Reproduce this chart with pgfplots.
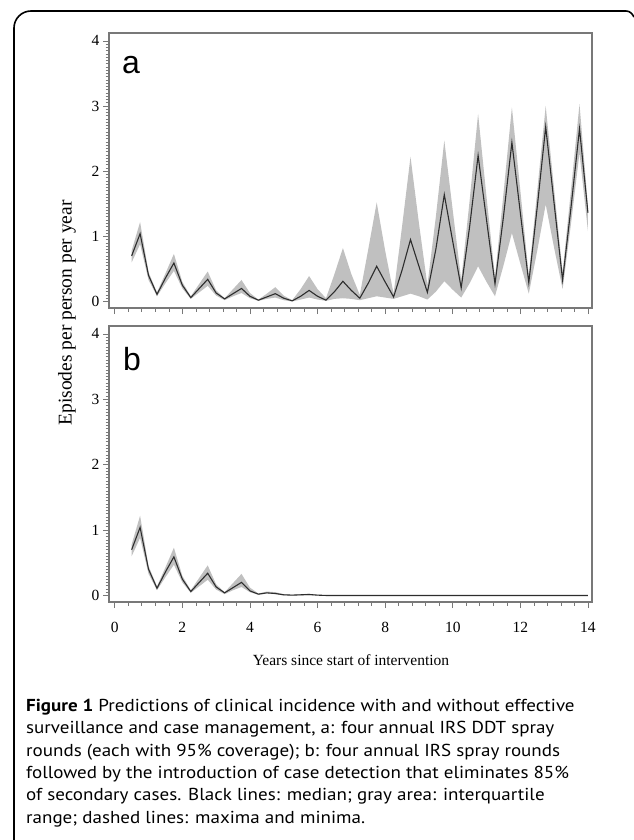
\documentclass[border=0pt]{standalone}
\usepackage{fontspec}
\setmainfont{Liberation Serif}
\newfontfamily\capfont{PT Sans}
\newfontfamily\panelfont{Liberation Sans}
\usepackage{pgfplots}
\pgfplotsset{compat=1.18}
\usepgfplotslibrary{fillbetween}

\definecolor{band}{RGB}{192,192,192}
\definecolor{medline}{RGB}{45,45,45}
\definecolor{frame}{RGB}{120,120,120}

% x, median, lower quartile, upper quartile
\pgfplotstableread{
x     m     lo    hi
0.5   0.70  0.60  0.78
0.75  1.04  0.88  1.22
1.0   0.40  0.33  0.45
1.25  0.11  0.08  0.14
1.5   0.36  0.28  0.43
1.75  0.59  0.47  0.73
2.0   0.25  0.20  0.30
2.25  0.06  0.04  0.08
2.5   0.20  0.14  0.27
2.75  0.34  0.24  0.46
3.0   0.13  0.09  0.17
3.25  0.04  0.02  0.05
3.5   0.12  0.08  0.19
3.75  0.20  0.13  0.33
4.0   0.08  0.05  0.13
4.25  0.02  0.01  0.03
4.5   0.07  0.04  0.12
4.75  0.12  0.06  0.22
5.0   0.05  0.02  0.09
5.25  0.01  0.00  0.02
5.5   0.08  0.03  0.19
5.75  0.17  0.06  0.39
6.0   0.08  0.03  0.19
6.25  0.02  0.01  0.05
6.5   0.15  0.04  0.42
6.75  0.31  0.05  0.82
7.0   0.17  0.04  0.42
7.25  0.05  0.02  0.10
7.5   0.28  0.05  0.80
7.75  0.54  0.08  1.52
8.0   0.30  0.06  0.78
8.25  0.07  0.04  0.12
8.5   0.48  0.08  1.15
8.75  0.95  0.12  2.22
9.0   0.54  0.08  1.20
9.25  0.14  0.03  0.25
9.5   0.80  0.15  1.30
9.75  1.64  0.31  2.47
10.0  0.92  0.18  1.40
10.25 0.21  0.06  0.33
10.5  1.15  0.28  1.55
10.75 2.24  0.54  2.88
11.0  1.25  0.30  1.60
11.25 0.27  0.08  0.38
11.5  1.30  0.55  1.65
11.75 2.44  1.05  2.98
12.0  1.36  0.58  1.70
12.25 0.29  0.12  0.40
12.5  1.45  0.78  1.70
12.75 2.68  1.49  3.00
13.0  1.50  0.82  1.72
13.25 0.33  0.19  0.45
13.5  1.45  1.20  1.72
13.75 2.65  2.28  3.03
14.0  1.36  1.08  1.46
}\panelA

\pgfplotstableread{
x     m     lo    hi
0.5   0.70  0.60  0.78
0.75  1.04  0.88  1.22
1.0   0.40  0.33  0.45
1.25  0.11  0.08  0.14
1.5   0.36  0.28  0.43
1.75  0.59  0.47  0.73
2.0   0.25  0.20  0.30
2.25  0.06  0.04  0.08
2.5   0.20  0.14  0.27
2.75  0.34  0.24  0.46
3.0   0.13  0.09  0.17
3.25  0.04  0.02  0.05
3.5   0.12  0.08  0.19
3.75  0.20  0.13  0.33
4.0   0.07  0.05  0.12
4.25  0.02  0.01  0.03
4.5   0.04  0.03  0.06
4.75  0.03  0.02  0.05
5.0   0.01  0.00  0.02
5.25  0.005 0.00  0.01
5.5   0.01  0.00  0.02
5.75  0.015 0.00  0.025
6.0   0.005 0.00  0.01
6.25  0.00  0.00  0.005
7.0   0.00  0.00  0.00
10.0  0.00  0.00  0.00
14.0  0.00  0.00  0.00
}\panelB

\pgfplotsset{
  panel/.style={
    scale only axis, width=483pt, height=275pt,
    xmin=-0.17, xmax=14.12, ymin=-0.1, ymax=4.12,
    axis line style={frame, line width=1.1pt},
    xtick={0,2,...,14}, minor x tick num=4,
    ytick={0,1,2,3,4}, minor y tick num=19,
    tick align=outside, xtick pos=bottom, ytick pos=left,
    major tick length=6pt, minor tick length=3.5pt,
    tick style={frame, line width=0.6pt},
    /pgf/number format/assume math mode=true,
    tick label style={font=\fontsize{15.5}{15.5}\selectfont, text=black},
  },
}

\begin{document}
\begin{tikzpicture}[x=1pt,y=1pt]
% outer frame
\draw[line width=1.6pt, black] (14,-845) -- (14,-28) arc[start angle=180,end angle=90,radius=17] -- (626,-11) to[out=0,in=120] (634,-17);

\begin{axis}[panel, at={(109pt,-33pt)}, anchor=north west, xticklabels={}]
\addplot[name path=hiA, draw=none, forget plot] table[x=x,y=hi] {\panelA};
\addplot[name path=loA, draw=none, forget plot] table[x=x,y=lo] {\panelA};
\addplot[band, draw=none] fill between[of=hiA and loA];
\addplot[medline, line width=1.1pt, mark=none] table[x=x,y=m] {\panelA};
\end{axis}

\begin{axis}[panel, at={(109pt,-326pt)}, anchor=north west, height=276pt,
  xticklabel style={yshift=-11pt}]
\addplot[name path=hiB, draw=none, forget plot] table[x=x,y=hi] {\panelB};
\addplot[name path=loB, draw=none, forget plot] table[x=x,y=lo] {\panelB};
\addplot[band, draw=none] fill between[of=hiB and loB];
\addplot[medline, line width=1.1pt, mark=none] table[x=x,y=m] {\panelB};
\end{axis}

\node[font=\panelfont\fontsize{32}{32}\selectfont] at (131,-65) {a};
\node[font=\panelfont\fontsize{32}{32}\selectfont] at (132,-359) {b};

\node[rotate=90, font=\fontsize{19.5}{19.5}\selectfont] at (67,-313) {Episodes per person per year};
\node[font=\fontsize{15.5}{15.5}\selectfont] at (351,-660) {Years since start of intervention};

\begin{scope}[every node/.style={anchor=base west, inner sep=0pt, font=\capfont\fontsize{17.3}{17.3}\selectfont}]
\node at (26,-711) {\scalebox{1.10}[1]{\textbf{Figure 1} Predictions of clinical incidence with and without effective}};
\node at (26,-733.5) {\scalebox{1.10}[1]{surveillance and case management, a: four annual IRS DDT spray}};
\node at (26,-756) {\scalebox{1.10}[1]{rounds (each with 95\% coverage); b: four annual IRS spray rounds}};
\node at (26,-778) {\scalebox{1.10}[1]{followed by the introduction of case detection that eliminates 85\%}};
\node at (26,-800.5) {\scalebox{1.10}[1]{of secondary cases. Black lines: median; gray area: interquartile}};
\node at (26,-823) {\scalebox{1.10}[1]{range; dashed lines: maxima and minima.}};
\end{scope}

\pgfresetboundingbox
\path[use as bounding box] (0,0) rectangle (633,-840);
\end{tikzpicture}
\end{document}
